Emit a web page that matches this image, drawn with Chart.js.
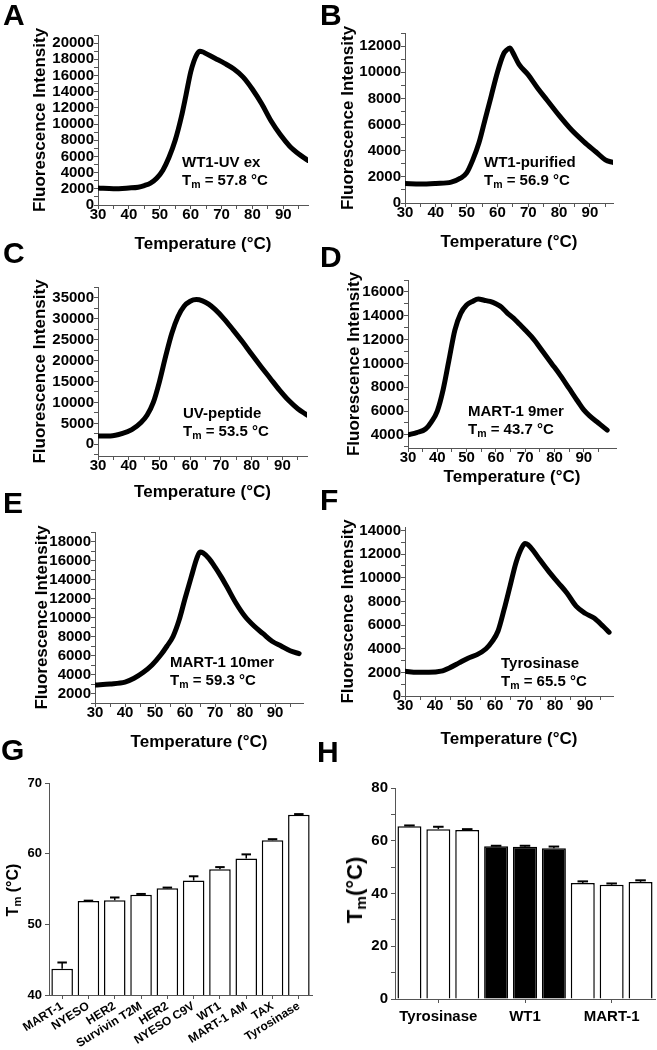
<!DOCTYPE html>
<html>
<head>
<meta charset="utf-8">
<script src="https://cdn.jsdelivr.net/npm/chart.js@4.4.0/dist/chart.umd.min.js"></script>
<style>
  body { margin: 0; background: #fff; }
  #fig { position: relative; width: 657px; height: 1050px; overflow: hidden;
         font-family: "Liberation Sans", Arial, sans-serif; font-weight: bold; color: #000; }
  #fig canvas { position: absolute; }
  .lab { position: absolute; font-size: 30px; line-height: 1; }
  .note { position: absolute; font-size: 15px; line-height: 18px; white-space: nowrap; }
  .note sub, .ytitle sub { font-size: 70%; vertical-align: -0.25em; line-height: 0; }
  .ytitle { position: absolute; white-space: nowrap; transform: translate(-50%, -50%) rotate(-90deg); }
</style>
</head>
<body>
<div id="fig">
  <canvas id="cA" width="316" height="240" style="left:0;top:20px"></canvas>
  <canvas id="cB" width="299" height="240" style="left:322px;top:20px"></canvas>
  <canvas id="cC" width="316" height="235" style="left:0;top:270px"></canvas>
  <canvas id="cD" width="303" height="228" style="left:322px;top:262px"></canvas>
  <canvas id="cE" width="312" height="245" style="left:0;top:515px"></canvas>
  <canvas id="cF" width="299" height="248" style="left:322px;top:510px"></canvas>
  <canvas id="cG" width="320" height="280" style="left:0;top:770px"></canvas>
  <canvas id="cH" width="327" height="280" style="left:330px;top:770px"></canvas>

  <div class="lab" style="left:3px;top:0">A</div>
  <div class="lab" style="left:320px;top:0">B</div>
  <div class="lab" style="left:3px;top:238px">C</div>
  <div class="lab" style="left:320px;top:242px">D</div>
  <div class="lab" style="left:3px;top:488px">E</div>
  <div class="lab" style="left:320px;top:485px">F</div>
  <div class="lab" style="left:1px;top:735px">G</div>
  <div class="lab" style="left:317px;top:737px">H</div>

  <div class="note" style="left:182px;top:153px">WT1-UV ex<br>T<sub>m</sub> = 57.8 °C</div>
  <div class="note" style="left:484px;top:153px">WT1-purified<br>T<sub>m</sub> = 56.9 °C</div>
  <div class="note" style="left:183px;top:404px">UV-peptide<br>T<sub>m</sub> = 53.5 °C</div>
  <div class="note" style="left:468px;top:402px">MART-1 9mer<br>T<sub>m</sub> = 43.7 °C</div>
  <div class="note" style="left:170px;top:653px">MART-1 10mer<br>T<sub>m</sub> = 59.3 °C</div>
  <div class="note" style="left:501px;top:654px">Tyrosinase<br>T<sub>m</sub> = 65.5 °C</div>

  <div class="ytitle" style="left:13px;top:890px;font-size:16px">T<sub>m</sub> (°C)</div>
  <div class="ytitle" style="left:355px;top:890px;font-size:22px">T<sub>m</sub>(°C)</div>
</div>

<script>
// ---- melt curves (temperature in °C, fluorescence intensity) ----
const tempA = [30, 35, 40, 43, 45, 47, 49, 51, 53, 55, 57, 58.5, 60, 61, 62, 63, 64, 65, 68, 71, 74, 77, 80, 83, 86, 89, 92, 95, 98];
const fluorA = [2100, 2000, 2100, 2200, 2400, 2700, 3300, 4300, 5900, 8000, 10900, 13600, 16400, 17700, 18600, 19000, 18900, 18700, 18100, 17500, 16800, 15800, 14300, 12500, 10400, 8700, 7300, 6300, 5500];

const tempB = [30, 35, 40, 45, 48, 50, 52, 54, 56, 58, 60, 62, 63, 64, 65, 67, 70, 73, 76, 80, 84, 88, 92, 95, 97.5];
const fluorB = [1500, 1450, 1500, 1600, 1900, 2300, 3300, 4600, 6400, 8200, 10000, 11400, 11700, 11850, 11500, 10600, 9800, 8800, 7900, 6700, 5600, 4700, 3900, 3300, 3100];

const tempC = [30, 34, 38, 41, 44, 46, 48, 50, 52, 54, 56, 58, 60, 62, 64, 66, 68, 71, 74, 77, 80, 83, 86, 89, 92, 95, 98];
const fluorC = [2000, 2000, 2600, 3500, 5200, 7000, 10000, 15000, 21000, 26500, 30500, 33000, 34200, 34600, 34300, 33500, 32300, 30000, 27300, 24500, 21500, 18600, 15800, 13000, 10500, 8500, 7000];

const tempD = [30, 33, 36, 38, 40, 42, 44, 46, 48, 50, 52, 54, 56, 58, 60, 62, 64, 66, 68, 70, 73, 76, 79, 82, 85, 88, 90, 92, 95, 98];
const fluorD = [4000, 4200, 4500, 5100, 6000, 7800, 10300, 12800, 14200, 14900, 15200, 15400, 15300, 15200, 15000, 14700, 14200, 13800, 13300, 12800, 12000, 11000, 10000, 9000, 7900, 6800, 6100, 5600, 5000, 4400];

const tempE = [30, 35, 40, 43, 46, 49, 52, 54, 56, 58, 60, 62, 64, 65, 66, 68, 70, 72, 74, 77, 80, 83, 86, 89, 92, 95, 98];
const fluorE = [2900, 3000, 3200, 3600, 4200, 5000, 6100, 7000, 8000, 9700, 12000, 14200, 16300, 16900, 16800, 16200, 15300, 14300, 13200, 11500, 10100, 9100, 8300, 7500, 7000, 6500, 6200];

const tempF = [30, 34, 38, 42, 45, 48, 51, 54, 57, 59, 61, 63, 65, 67, 69, 70, 71, 73, 75, 78, 81, 84, 87, 90, 93, 96, 98];
const fluorF = [2100, 2000, 2000, 2100, 2400, 2800, 3200, 3500, 4000, 4600, 5500, 7300, 9300, 11300, 12600, 12900, 12800, 12200, 11500, 10500, 9600, 8700, 7600, 7000, 6600, 5900, 5400];

// ---- tick labels ----
const tempTicks = [30, 40, 50, 60, 70, 80, 90];
const ticksA = [0, 2000, 4000, 6000, 8000, 10000, 12000, 14000, 16000, 18000, 20000];
const ticksB = [0, 2000, 4000, 6000, 8000, 10000, 12000];
const ticksC = [0, 5000, 10000, 15000, 20000, 25000, 30000, 35000];
const ticksD = [4000, 6000, 8000, 10000, 12000, 14000, 16000];
const ticksE = [2000, 4000, 6000, 8000, 10000, 12000, 14000, 16000, 18000];
const ticksF = [0, 2000, 4000, 6000, 8000, 10000, 12000, 14000];

// ---- G: Tm of peptide complexes ----
const peptidesG = ['MART-1', 'NYESO', 'HER2', 'Survivin T2M', 'HER2', 'NYESO C9V', 'WT1', 'MART-1 AM', 'TAX', 'Tyrosinase'];
const tmG = [43.7, 53.3, 53.4, 54.2, 55.1, 56.2, 57.8, 59.3, 61.9, 65.5];
const errG = [0.9, 0.05, 0.4, 0.1, 0.1, 0.6, 0.3, 0.6, 0.15, 0.1];
const ticksG = [40, 50, 60, 70];

// ---- H: replicate Tm per peptide ----
const groupsH = ['Tyrosinase', 'WT1', 'MART-1'];
const rep1H = [65.5, 57.9, 44.0];
const rep2H = [64.4, 57.7, 43.3];
const rep3H = [64.1, 57.2, 44.4];
const err1H = [0.3, 0.2, 0.6];
const err2H = [0.9, 0.4, 0.5];
const err3H = [0.3, 0.6, 0.6];
const fillH = ['#ffffff', '#000000', '#ffffff'];
const ticksH = [0, 20, 40, 60, 80];

Chart.defaults.font.family = "'Liberation Sans', Arial, sans-serif";
Chart.defaults.font.weight = 'bold';
Chart.defaults.color = '#000';
Chart.defaults.animation = false;

// major ticks plus a minor tick half way between them
function withMinor(major, min, max) {
  const half = (major[1] - major[0]) / 2;
  const all = [];
  for (let v = major[0] - half; v <= major[major.length - 1] + half; v += half) {
    if (v >= min && v <= max) all.push(v);
  }
  return all;
}

const axisLine = { color: '#555', width: 1 };
const tickMarks = { drawOnChartArea: false, tickLength: 4, color: '#555' };

function meltChart(id, L, temps, fluor, xMax, yMin, yMax, yMajor) {
  const xAll = withMinor(tempTicks, 30, xMax);
  const yAll = withMinor(yMajor, yMin, yMax);
  return new Chart(document.getElementById(id), {
    type: 'line',
    data: {
      datasets: [{
        data: temps.map((t, i) => ({ x: t, y: fluor[i] })),
        borderColor: '#000',
        borderWidth: 5,
        pointRadius: 0,
        cubicInterpolationMode: 'monotone',
        borderCapStyle: 'round',
        borderJoinStyle: 'round'
      }]
    },
    options: {
      responsive: false,
      layout: { padding: { top: L.padTop, right: L.padRight, left: 0, bottom: 0 } },
      plugins: { legend: { display: false }, tooltip: { enabled: false } },
      scales: {
        x: {
          type: 'linear', min: 30, max: xMax,
          afterBuildTicks: a => { a.ticks = xAll.map(v => ({ value: v })); },
          afterFit: s => { s.height = L.xHeight; },
          ticks: { autoSkip: false, maxRotation: 0, padding: -3, font: { size: 15 },
                   callback: v => tempTicks.includes(v) ? v : '' },
          grid: tickMarks,
          border: axisLine,
          title: { display: true, text: 'Temperature (°C)', font: { size: 17 },
                   padding: { top: 0, bottom: L.xTitlePad } }
        },
        y: {
          min: yMin, max: yMax,
          afterBuildTicks: a => { a.ticks = yAll.map(v => ({ value: v })); },
          afterFit: s => { s.width = L.yWidth; },
          ticks: { autoSkip: false, padding: 0, font: { size: 15 },
                   callback: v => yMajor.includes(v) ? v : '' },
          grid: tickMarks,
          border: axisLine,
          title: { display: true, text: 'Fluorescence Intensity', font: { size: 17 },
                   padding: { top: L.yTitlePad, bottom: 0 } }
        }
      }
    }
  });
}

meltChart('cA', { yWidth: 98, xHeight: 55, padTop: 15, padRight: 8, yTitlePad: 30, xTitlePad: 5 }, tempA, fluorA, 98, 0, 21000, ticksA);
meltChart('cB', { yWidth: 83, xHeight: 57, padTop: 13, padRight: 8, yTitlePad: 16, xTitlePad: 7 }, tempB, fluorB, 97.5, 0, 13000, ticksB);
meltChart('cC', { yWidth: 98, xHeight: 49, padTop: 17, padRight: 9, yTitlePad: 30, xTitlePad: 2 }, tempC, fluorC, 98, -2800, 37600, ticksC);
meltChart('cD', { yWidth: 86, xHeight: 42, padTop: 18, padRight: 9, yTitlePad: 22, xTitlePad: 2 }, tempD, fluorD, 101, 2900, 17000, ticksD);
meltChart('cE', { yWidth: 95, xHeight: 57, padTop: 17, padRight: 9, yTitlePad: 32, xTitlePad: 7 }, tempE, fluorE, 99.3, 1000, 19000, ticksE);
meltChart('cF', { yWidth: 83, xHeight: 62, padTop: 17, padRight: 8, yTitlePad: 16, xTitlePad: 8 }, tempF, fluorF, 99.3, 0, 14300, ticksF);

// upward error bars with a cap, drawn from each dataset's "errors" list
const errorBars = {
  id: 'errorBars',
  afterDatasetsDraw(chart) {
    const ctx = chart.ctx;
    const y = chart.scales.y;
    chart.data.datasets.forEach((ds, i) => {
      if (!ds.errors) return;
      chart.getDatasetMeta(i).data.forEach((bar, j) => {
        const top = y.getPixelForValue(ds.data[j] + ds.errors[j]);
        const half = bar.width * 0.22;
        ctx.save();
        ctx.strokeStyle = '#000';
        ctx.lineWidth = 1.5;
        ctx.beginPath();
        ctx.moveTo(bar.x, bar.y);
        ctx.lineTo(bar.x, top);
        ctx.stroke();
        ctx.lineWidth = 2;
        ctx.beginPath();
        ctx.moveTo(bar.x - half, top);
        ctx.lineTo(bar.x + half, top);
        ctx.stroke();
        ctx.restore();
      });
    });
  }
};

function barScales(L, yMin, yMax, yMajor, yAll, xTicks) {
  return {
    x: {
      afterFit: s => { s.height = L.xHeight; },
      ticks: xTicks,
      grid: { offset: false, drawOnChartArea: false, tickLength: 4, color: '#555' },
      border: axisLine
    },
    y: {
      min: yMin, max: yMax,
      afterBuildTicks: a => { a.ticks = yAll.map(v => ({ value: v })); },
      afterFit: s => { s.width = L.yWidth; },
      ticks: { autoSkip: false, padding: 3, font: { size: L.yFont },
               callback: v => yMajor.includes(v) ? v : '' },
      grid: tickMarks,
      border: axisLine
    }
  };
}

const LG = { yWidth: 49, xHeight: 55, padTop: 13, padRight: 8, yFont: 13 };
new Chart(document.getElementById('cG'), {
  type: 'bar',
  data: {
    labels: peptidesG,
    datasets: [{
      data: tmG, errors: errG,
      backgroundColor: '#fff', borderColor: '#000', borderWidth: 1.5,
      categoryPercentage: 1, barPercentage: 0.82
    }]
  },
  options: {
    responsive: false,
    layout: { padding: { top: LG.padTop, right: LG.padRight, left: 0, bottom: 0 } },
    plugins: { legend: { display: false }, tooltip: { enabled: false } },
    scales: barScales(LG, 40, 70, ticksG, ticksG,
      { autoSkip: false, minRotation: 32, maxRotation: 32, padding: 0, font: { size: 12 } })
  },
  plugins: [errorBars]
});

const LH = { yWidth: 65, xHeight: 51, padTop: 18, padRight: 2, yFont: 15 };
const barStyle = { borderColor: '#000', borderWidth: 1.5, categoryPercentage: 1, barPercentage: 0.83, backgroundColor: fillH };
new Chart(document.getElementById('cH'), {
  type: 'bar',
  data: {
    labels: groupsH,
    datasets: [
      { data: rep1H, errors: err1H, ...barStyle },
      { data: rep2H, errors: err2H, ...barStyle },
      { data: rep3H, errors: err3H, ...barStyle }
    ]
  },
  options: {
    responsive: false,
    layout: { padding: { top: LH.padTop, right: LH.padRight, left: 0, bottom: 0 } },
    plugins: { legend: { display: false }, tooltip: { enabled: false } },
    scales: barScales(LH, 0, 80, ticksH, withMinor(ticksH, 0, 80),
      { autoSkip: false, maxRotation: 0, padding: 5, font: { size: 15 } })
  },
  plugins: [errorBars]
});
</script>
</body>
</html>
